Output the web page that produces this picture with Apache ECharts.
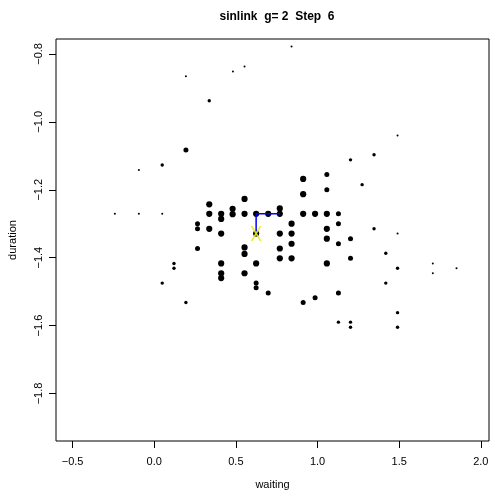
<!DOCTYPE html>
<html>
<head>
<meta charset="utf-8">
<script src="https://cdn.jsdelivr.net/npm/echarts@6/dist/echarts.min.js"></script>
<style>html,body{margin:0;padding:0;background:#fff}#c{width:495px;height:492px}</style>
</head>
<body>
<div id="c"></div>
<script>
var titleText = 'sinlink  g= 2  Step  6';
var xName = 'waiting';
var yName = 'duration';
var xTicks = [-0.5, 0.0, 0.5, 1.0, 1.5, 2.0];
var yTicks = [-1.8, -1.6, -1.4, -1.2, -1.0, -0.8];

var waiting = [0.841,0.553,0.482,0.194,0.337,0.194,0.049,-0.094,1.49,1.346,1.202,1.057,0.912,0.553,0.337,0.48,0.48,0.769,0.769,-0.241,-0.094,0.049,0.337,0.41,0.41,0.553,0.624,0.698,0.841,0.265,0.265,0.337,0.41,0.624,0.769,0.841,0.841,0.769,0.265,0.553,0.553,0.769,0.841,0.121,0.121,0.41,0.624,0.41,0.41,0.553,0.049,0.624,0.624,0.698,0.194,1.273,0.912,1.057,0.912,0.985,1.057,1.128,1.057,1.057,1.128,1.128,1.202,1.202,1.057,1.346,1.49,1.418,1.49,1.706,1.706,1.851,1.418,1.128,0.985,0.912,1.49,1.128,1.202,1.202,1.49];
var duration = [-0.778,-0.837,-0.852,-0.866,-0.938,-1.083,-1.127,-1.142,-1.04,-1.097,-1.112,-1.155,-1.168,-1.227,-1.243,-1.256,-1.272,-1.255,-1.271,-1.271,-1.271,-1.271,-1.271,-1.271,-1.286,-1.271,-1.271,-1.271,-1.30,-1.30,-1.315,-1.315,-1.329,-1.329,-1.329,-1.329,-1.359,-1.373,-1.373,-1.37,-1.389,-1.402,-1.402,-1.417,-1.431,-1.417,-1.417,-1.446,-1.46,-1.446,-1.475,-1.475,-1.489,-1.504,-1.532,-1.185,-1.213,-1.20,-1.271,-1.271,-1.271,-1.271,-1.315,-1.344,-1.30,-1.359,-1.344,-1.402,-1.417,-1.315,-1.329,-1.387,-1.431,-1.417,-1.446,-1.431,-1.475,-1.504,-1.518,-1.532,-1.562,-1.59,-1.59,-1.605,-1.605];
// weight class 1..4 (tiny .. large)
var weight = [1,1,1,1,2,3,2,1,1,2,2,3,4,4,4,4,4,4,4,1,1,1,4,4,4,4,4,4,4,3,3,4,4,4,4,4,4,4,3,4,4,4,4,2,2,4,4,4,4,4,2,3,3,3,2,2,4,3,4,4,4,3,4,4,3,3,3,3,4,2,1,2,2,1,1,1,2,3,3,3,2,2,2,2,2];

var pathX = [0.624, 0.624, 0.769];
var pathY = [-1.329, -1.271, -1.271];
var starX = [0.624];
var starY = [-1.329];

var sizeMap = {1: 2.0, 2: 3.4, 3: 5.0, 4: 6.2};
var pts = waiting.map(function (w, i) { return [w, duration[i], weight[i]]; });
var pathData = pathX.map(function (x, i) { return [x, pathY[i]]; });
var starData = starX.map(function (x, i) { return [x, starY[i]]; });

function fmt(v) { return v.toFixed(1).replace('-', '\u2212'); }
var FONT = 'Liberation Sans, Arial, Helvetica, sans-serif';
var X_SHAPE = 'path://M0,0L2,0L11,15L9,15ZM9,0L11,0L2,15L0,15Z';

var chart = echarts.init(document.getElementById('c'), null, {renderer: 'canvas'});
chart.setOption({
  animation: false,
  backgroundColor: '#ffffff',
  title: {
    text: titleText, left: 272, top: 6, textAlign: 'center',
    textStyle: {fontFamily: FONT, fontSize: 12, fontWeight: 'bold', color: '#000'}
  },
  grid: {left: 56, right: 6, top: 39, bottom: 51, show: true, borderColor: '#000', borderWidth: 1,
         backgroundColor: 'transparent', containLabel: false, outerBoundsMode: 'none'},
  xAxis: {
    type: 'value', min: -0.6015, max: 2.05,
    name: xName, nameLocation: 'middle', nameGap: 38,
    nameTextStyle: {fontFamily: FONT, fontSize: 11, color: '#000'},
    axisLine: {show: false, onZero: false},
    splitLine: {show: false},
    axisTick: {show: true, inside: false, length: 7, customValues: xTicks, lineStyle: {color: '#000'}},
    axisLabel: {show: true, customValues: xTicks, margin: 15, formatter: fmt, fontFamily: FONT, fontSize: 11, color: '#000'}
  },
  yAxis: {
    type: 'value', min: -1.94, max: -0.756,
    name: yName, nameLocation: 'middle', nameGap: 38, nameRotate: 90,
    nameTextStyle: {fontFamily: FONT, fontSize: 11, color: '#000'},
    axisLine: {show: false, onZero: false},
    splitLine: {show: false},
    axisTick: {show: true, inside: false, length: 7, customValues: yTicks, lineStyle: {color: '#000'}},
    axisLabel: {show: true, customValues: yTicks, rotate: 90, margin: 12, formatter: fmt, fontFamily: FONT, fontSize: 11, color: '#000'}
  },
  series: [
    {
      type: 'scatter', data: pts, symbol: 'circle',
      symbolSize: function (d) { return sizeMap[d[2]]; },
      itemStyle: {color: '#000', opacity: 1},
      z: 2
    },
    {
      type: 'line', data: pathData, symbol: 'none',
      lineStyle: {color: '#0000ff', width: 1.5}, z: 3
    },
    {
      type: 'scatter', data: starData, symbol: X_SHAPE, symbolSize: [11, 15],
      itemStyle: {color: 'rgba(235,235,40,0.9)', opacity: 1},
      z: 4
    }
  ]
});
</script>
</body>
</html>
